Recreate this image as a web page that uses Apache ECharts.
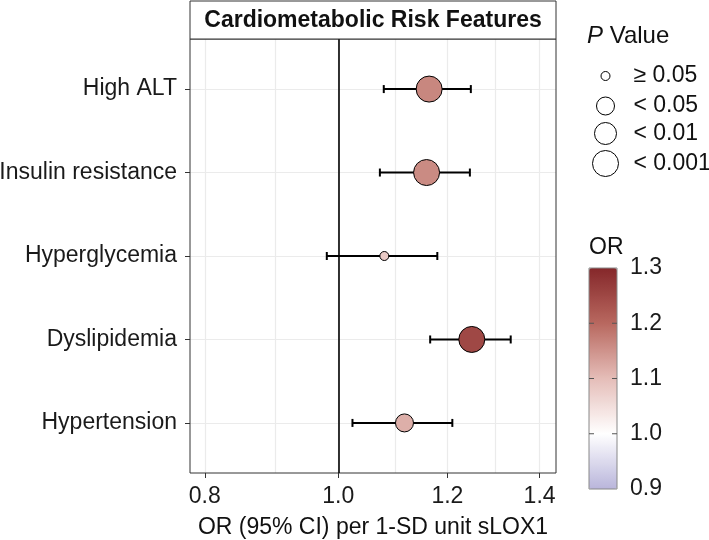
<!DOCTYPE html>
<html><head><meta charset="utf-8">
<script src="https://cdn.jsdelivr.net/npm/echarts@6/dist/echarts.min.js"></script>
<style>html,body{margin:0;padding:0;background:#fff}#c{width:709px;height:540px}</style>
</head><body><div id="c"></div>
<script>
const categories = ['High ALT', 'Insulin resistance', 'Hyperglycemia', 'Dyslipidemia', 'Hypertension'];
const orValues = [1.164, 1.159, 1.080, 1.250, 1.117];
const ciLower = [1.079, 1.072, 0.981, 1.166, 1.024];
const ciUpper = [1.248, 1.246, 1.180, 1.334, 1.210];
const pGroup = ['< 0.001', '< 0.001', '≥ 0.05', '< 0.001', '< 0.05'];
const pLevels = ['≥ 0.05', '< 0.05', '< 0.01', '< 0.001'];
const xTicks = [0.8, 1.0, 1.2, 1.4];
const xGridValues = [0.8, 0.9, 1.0, 1.1, 1.2, 1.3, 1.4];
const colorTicks = [1.0, 1.1, 1.2];

const pSizes = [9, 18, 22, 26];
const FONT = 'Liberation Sans, Arial, sans-serif';
const FS = 23;
const rows = categories.map((c, i) => i + 1);

const chart = echarts.init(document.getElementById('c'), null, {renderer: 'canvas'});

const scatterSeries = pLevels.map((lvl, k) => ({
  type: 'scatter',
  name: lvl,
  xAxisIndex: 0, yAxisIndex: 0,
  symbol: 'circle',
  symbolSize: pSizes[k],
  z: 5,
  itemStyle: {borderColor: '#000', borderWidth: 1, opacity: 1, color: '#fff'},
  data: categories.map((c, i) => pGroup[i] === lvl ? [orValues[i], rows[i]] : null).filter(d => d)
}));

const legendCenters = [75, 105, 133, 163];
const legends = pLevels.map((lvl, k) => ({
  show: true,
  orient: 'vertical',
  left: 605 - pSizes[k] / 2,
  top: legendCenters[k] - Math.max(pSizes[k], 21) / 2,
  padding: 0,
  itemWidth: 46,
  itemHeight: pSizes[k],
  icon: 'circle',
  selectedMode: false,
  textStyle: {fontFamily: FONT, fontSize: FS, color: '#111'},
  data: [{name: lvl, icon: 'circle', itemStyle: {color: '#fff', borderColor: '#000', borderWidth: 1}}]
}));

const option = {
  animation: false,
  backgroundColor: '#fff',
  title: [
    {text: '{i|P} Value', left: 587, top: 24, padding: 0,
     textStyle: {fontFamily: FONT, fontSize: 24, fontWeight: 'normal', color: '#111',
       rich: {i: {fontFamily: FONT, fontSize: 24, fontStyle: 'italic', color: '#111'}}}},
    {text: 'OR', left: 589, top: 236, padding: 0,
     textStyle: {fontFamily: FONT, fontSize: FS, fontWeight: 'normal', color: '#111'}}
  ],
  legend: legends,
  grid: [
    {left: 190, top: 39, width: 366, height: 434, show: true, borderColor: '#333', borderWidth: 1,
     backgroundColor: 'transparent', z: 3, containLabel: false, outerBoundsMode: 'none'},
    {left: 589, top: 268, width: 28, height: 221, show: true, borderColor: '#888', borderWidth: 1,
     backgroundColor: 'transparent', z: 10, containLabel: false, outerBoundsMode: 'none'}
  ],
  xAxis: [
    {type: 'log', gridIndex: 0, min: 0.7805, max: 1.4389, position: 'bottom',
     axisLine: {show: false}, axisLabel: {show: false},
     axisTick: {show: false, customValues: xGridValues},
     splitLine: {show: true, lineStyle: {color: '#ebebeb', width: 1.2}}},
    {type: 'log', gridIndex: 0, min: 0.7805, max: 1.4389, position: 'bottom',
     axisLine: {show: false},
     axisTick: {show: true, length: 5, customValues: xTicks, lineStyle: {color: '#333', width: 1}},
     axisLabel: {show: true, customValues: xTicks, margin: 12, fontFamily: FONT, fontSize: FS, color: '#1a1a1a',
       formatter: v => Number(v).toFixed(1)},
     splitLine: {show: false},
     name: 'OR (95% CI) per 1-SD unit sLOX1', nameLocation: 'middle', nameGap: 43,
     nameTextStyle: {fontFamily: FONT, fontSize: FS, color: '#111'}},
    {type: 'value', gridIndex: 1, show: false, min: 0, max: 1}
  ],
  yAxis: [
    {type: 'value', gridIndex: 0, min: 0.4, max: 5.6, inverse: true,
     axisLine: {show: false},
     axisTick: {show: true, length: 5, customValues: rows, lineStyle: {color: '#333', width: 1}},
     axisLabel: {show: true, customValues: rows, margin: 13, fontFamily: FONT, fontSize: FS, color: '#1a1a1a',
       formatter: v => categories[Math.round(v) - 1] || ''},
     splitLine: {show: true, lineStyle: {color: '#ebebeb', width: 1.2}}},
    {type: 'value', gridIndex: 1, min: 0.9, max: 1.3, interval: 0.1, position: 'right', z: 20,
     axisLine: {show: false},
     axisTick: {show: false},
     axisLabel: {show: true, margin: 13, fontFamily: FONT, fontSize: FS, color: '#1a1a1a',
       formatter: v => Number(v).toFixed(1)},
     splitLine: {show: false}}
  ],
  visualMap: [{
    type: 'continuous', min: 0.9, max: 1.3, dimension: 0, z: 2,
    seriesIndex: [1, 2, 3, 4],
    left: 589, top: 268, itemWidth: 28, itemHeight: 221, padding: 0,
    calculable: false, realtime: false, hoverLink: false,
    inRange: {color: ['#b9b5db', '#ffffff', '#e5bdb8', '#b8685f', '#85272a']},
    textStyle: {color: 'transparent'}
  }],
  series: [
    {
      type: 'custom', name: 'CI',
      xAxisIndex: 0, yAxisIndex: 0, z: 3,
      encode: {x: [0, 1], y: 2},
      data: categories.map((c, i) => [ciLower[i], ciUpper[i], rows[i]]),
      renderItem: function (params, api) {
        const a = api.coord([api.value(0), api.value(2)]);
        const b = api.coord([api.value(1), api.value(2)]);
        const cap = 4;
        const st = {stroke: '#000', lineWidth: 2};
        return {type: 'group', children: [
          {type: 'line', shape: {x1: a[0], y1: a[1], x2: b[0], y2: b[1]}, style: st},
          {type: 'line', shape: {x1: a[0], y1: a[1] - cap, x2: a[0], y2: a[1] + cap}, style: st},
          {type: 'line', shape: {x1: b[0], y1: b[1] - cap, x2: b[0], y2: b[1] + cap}, style: st}
        ]};
      },
      markLine: {
        silent: true, symbol: ['none', 'none'], label: {show: false},
        lineStyle: {color: '#000', width: 1.6, type: 'solid'},
        data: [{xAxis: 1.0}]
      }
    }
  ].concat(scatterSeries).concat([
    {
      type: 'custom', name: 'colorbar ticks',
      xAxisIndex: 2, yAxisIndex: 1, z: 30, silent: true,
      encode: {x: 0, y: 1},
      data: colorTicks.map(v => [0, v]),
      renderItem: function (params, api) {
        const l = api.coord([0, api.value(1)]);
        const r = api.coord([1, api.value(1)]);
        const st = {stroke: '#555', lineWidth: 1};
        return {type: 'group', children: [
          {type: 'line', shape: {x1: l[0], y1: l[1], x2: l[0] + 5, y2: l[1]}, style: st},
          {type: 'line', shape: {x1: r[0] - 5, y1: r[1], x2: r[0], y2: r[1]}, style: st}
        ]};
      }
    }
  ]),
  graphic: [
    {type: 'rect', z: 20, shape: {x: 190, y: 1, width: 366, height: 38},
     style: {fill: '#fff', stroke: '#333', lineWidth: 1}},
    {type: 'text', z: 21, x: 373, y: 21,
     style: {text: 'Cardiometabolic Risk Features', fontFamily: FONT, fontSize: 23, fontWeight: 'bold',
       fill: '#111', textAlign: 'center', textVerticalAlign: 'middle'}}
  ]
};
chart.setOption(option);
</script></body></html>
